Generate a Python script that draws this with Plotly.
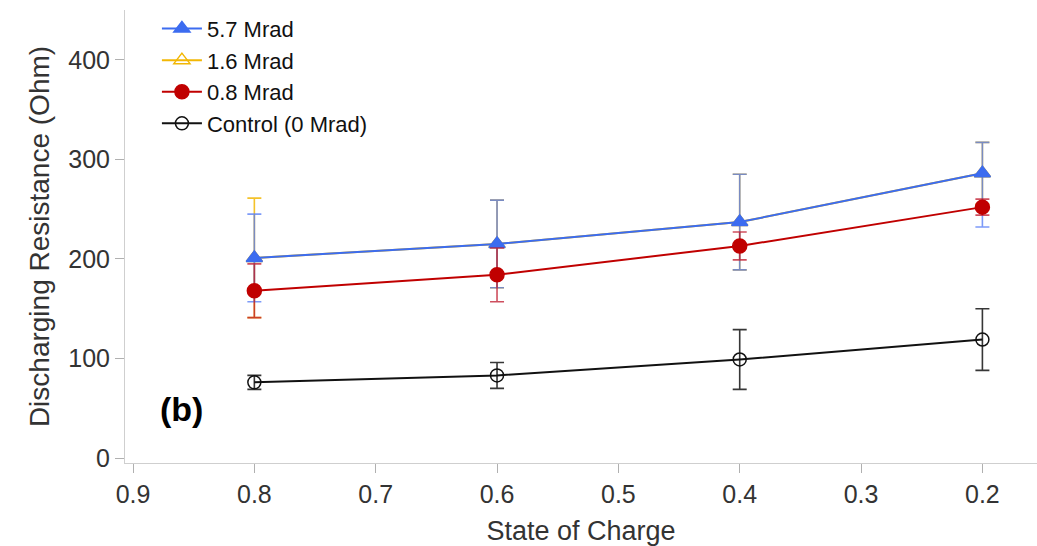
import plotly.graph_objects as go

soc = [0.8, 0.6, 0.4, 0.2]

r_57 = [201, 215, 237, 286]
e_57_up = [44, 44, 48, 31]
e_57_dn = [44, 44, 48, 54]

r_16 = [201, 215, 237, 286]
e_16 = [60, 44, 48, 31]

r_08 = [168, 184, 213, 252]
e_08 = [27, 27, 14, 8]

r_00 = [76, 83, 99, 119]
e_00 = [7, 13, 30, 31]

series = [
    dict(name="1.6 Mrad", y=r_16, up=e_16, dn=e_16, color="#f2b705", ecolor="rgba(242,183,5,0.85)",
         symbol="triangle-up-open", size=14, rank=2),
    dict(name="5.7 Mrad", y=r_57, up=e_57_up, dn=e_57_dn, color="#3c6cf0", ecolor="rgba(80,120,245,0.75)",
         symbol="triangle-up", size=14, rank=1),
    dict(name="0.8 Mrad", y=r_08, up=e_08, dn=e_08, color="#c00000", ecolor="rgba(190,20,40,0.75)",
         symbol="circle", size=14, rank=3),
    dict(name="Control (0 Mrad)", y=r_00, up=e_00, dn=e_00, color="#111111", ecolor="rgba(20,20,20,0.85)",
         symbol="circle-open", size=13, rank=4),
]

fig = go.Figure()
for s in series:
    fig.add_trace(go.Scatter(
        x=soc, y=s["y"], name=s["name"], mode="lines+markers",
        line=dict(color=s["color"], width=2),
        marker=dict(symbol=s["symbol"], size=s["size"], color=s["color"],
                    line=dict(color=s["color"], width=1.5)),
        error_y=dict(type="data", symmetric=False, array=s["up"], arrayminus=s["dn"],
                     color=s["ecolor"], thickness=1.6, width=7),
        legendrank=s["rank"],
    ))

fig.add_annotation(x=0.036, y=0.072, xref="paper", yref="paper", xanchor="left", yanchor="bottom",
                   text="<b>(b)</b>", showarrow=False,
                   font=dict(size=34, color="black", family="Liberation Sans"))

axis_common = dict(showline=True, linecolor="#cfcfcf", linewidth=1, ticks="outside",
                   tickcolor="#b0b0b0", ticklen=9, showgrid=False, zeroline=False,
                   tickfont=dict(size=25, color="#333333"))

fig.update_layout(
    width=1037, height=546,
    margin=dict(l=125, r=0, t=10, b=83),
    paper_bgcolor="white", plot_bgcolor="white",
    font=dict(family="Liberation Sans"),
    legend=dict(x=0.035, y=1.005, xanchor="left", yanchor="top", bgcolor="rgba(0,0,0,0)",
                font=dict(size=22, color="#111111"), tracegroupgap=0, itemwidth=40),
    showlegend=True,
)
fig.update_xaxes(range=[0.9066, 0.155], tickvals=[0.9, 0.8, 0.7, 0.6, 0.5, 0.4, 0.3, 0.2],
                 ticktext=["0.9", "0.8", "0.7", "0.6", "0.5", "0.4", "0.3", "0.2"],
                 title_text="State of Charge", title_standoff=14,
                 title_font=dict(size=27, color="#333333"), **axis_common)
fig.update_yaxes(range=[-5, 450], tickvals=[0, 100, 200, 300, 400],
                 title_text="Discharging Resistance (Ohm)", title_standoff=10,
                 title_font=dict(size=28, color="#333333"), **axis_common)

fig.write_html("out.html")
